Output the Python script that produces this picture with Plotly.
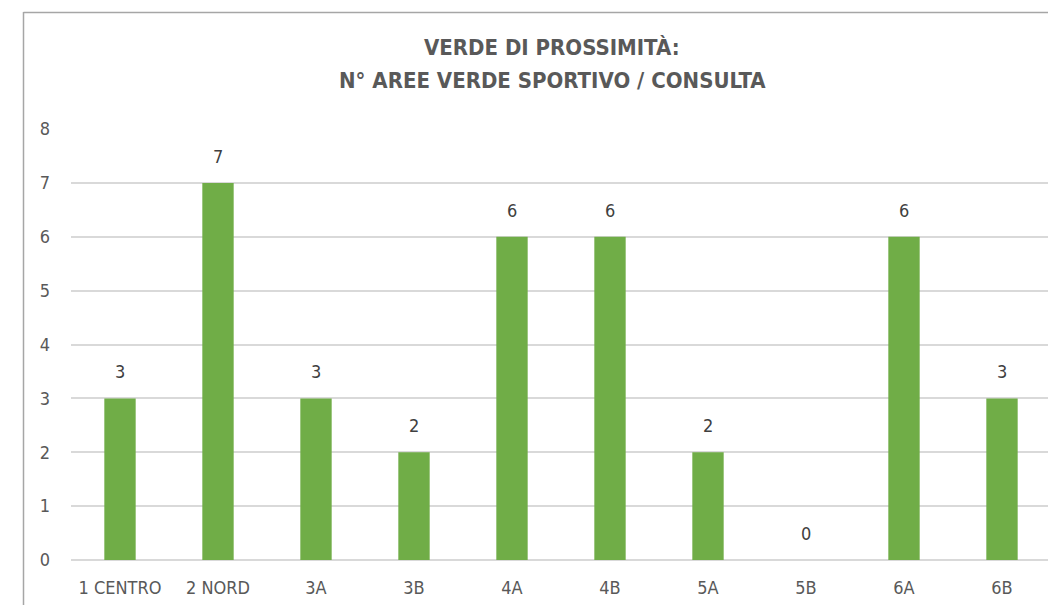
import plotly.graph_objects as go

categories = ["1 CENTRO", "2 NORD", "3A", "3B", "4A", "4B", "5A", "5B", "6A", "6B"]
values = [3, 7, 3, 2, 6, 6, 2, 0, 6, 3]
y_ticks = [0, 1, 2, 3, 4, 5, 6, 7, 8]
title_lines = ["VERDE DI PROSSIMITÀ:", "N° AREE VERDE SPORTIVO / CONSULTA"]

OFF = 8  # page body margin
W, H = 1056 - OFF, 605 - OFF
L, R, T, B = 71 - OFF, 5, 129 - OFF, 45
pw, ph = W - L - R, H - T - B
FONT = "DejaVu Sans Condensed, sans-serif"

fig = go.Figure(go.Bar(
    x=categories, y=values,
    marker=dict(color="#70ad47", line=dict(width=0)),
    width=0.32,
    cliponaxis=False,
))

def px_x(p):
    return (p - OFF - L) / pw

def px_y(p):
    return (H + OFF - B - p) / ph

annotations = [
    dict(x=c, y=v, xref="x", yref="y", text=str(v), showarrow=False,
         yanchor="bottom", yshift=14,
         font=dict(family=FONT, size=18, color="#404040"))
    for c, v in zip(categories, values)
]
for line, ypix in zip(title_lines, [47, 80]):
    annotations.append(dict(
        x=px_x(552), y=px_y(ypix), xref="paper", yref="paper",
        xanchor="center", yanchor="middle", text="<b>" + line + "</b>",
        showarrow=False, font=dict(family=FONT, size=22, color="#595959")))

fig.update_layout(
    width=W, height=H,
    margin=dict(l=L, r=R, t=T, b=B),
    paper_bgcolor="white", plot_bgcolor="white",
    showlegend=False,
    xaxis=dict(
        tickfont=dict(family=FONT, size=18, color="#595959"),
        showgrid=False, showline=False, ticks="",
        ticklabelstandoff=15,
    ),
    yaxis=dict(
        range=[0, 8], tickvals=y_ticks,
        tickfont=dict(family=FONT, size=18, color="#595959"),
        showgrid=True, gridcolor="#d9d9d9", gridwidth=1.5,
        zeroline=True, zerolinecolor="#d9d9d9", zerolinewidth=1.5,
        showline=False, ticks="", ticklabelstandoff=20,
    ),
    annotations=annotations,
    shapes=[
        dict(type="line", xref="paper", yref="paper",
             x0=px_x(23.5), x1=px_x(23.5), y0=px_y(12), y1=px_y(640),
             line=dict(color="#a6a6a6", width=1.5)),
        dict(type="line", xref="paper", yref="paper",
             x0=px_x(23.5), x1=px_x(1080), y0=px_y(12.5), y1=px_y(12.5),
             line=dict(color="#a6a6a6", width=1.5)),
    ],
)

fig.write_html("out.html")
